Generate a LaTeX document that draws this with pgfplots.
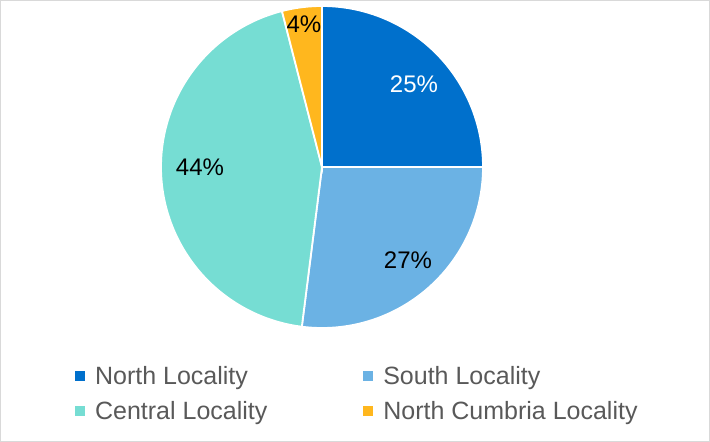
\documentclass[border=0pt]{standalone}
\usepackage{pgfplots}
\pgfplotsset{compat=1.18}
\usepackage{fontspec}
\setmainfont{Liberation Sans}
\definecolor{cNorth}{RGB}{0,112,204}
\definecolor{cSouth}{RGB}{107,178,228}
\definecolor{cCentral}{RGB}{118,221,211}
\definecolor{cCumbria}{RGB}{255,183,30}
\definecolor{legendgray}{RGB}{89,89,89}
\begin{document}
\begin{tikzpicture}
\begin{axis}[
  x=161pt, y=161pt, anchor=origin, at={(0pt,0pt)},
  xmin=-1, xmax=1, ymin=-1, ymax=1,
  hide axis, clip=false,
  legend columns=2,
  legend cell align=left,
  legend style={draw=none, fill=none, at={(axis cs:-1.534,-1.225)}, anchor=north west,
    font=\fontsize{25}{29}\selectfont, text=legendgray, inner sep=0pt, row sep=11pt,
    /tikz/every even column/.append style={column sep=94pt}},
  legend image code/.code={\fill[#1, draw=none] (0pt,-5pt) rectangle (10pt,5pt);\path (17pt,0pt);},
  every axis plot/.append style={draw=white, line width=1.8pt, samples=120},
]
% shares in percent: North 25, South 27, Central 44, North Cumbria 4 (clockwise from 12 o'clock)
\addplot[fill=cNorth, domain=90:90-25*3.6] ({cos(x)},{sin(x)}) -- (axis cs:0,0) -- cycle;
\addlegendentry{North Locality}
\addplot[fill=cSouth, domain=90-25*3.6:90-52*3.6] ({cos(x)},{sin(x)}) -- (axis cs:0,0) -- cycle;
\addlegendentry{South Locality}
\addplot[fill=cCentral, domain=90-52*3.6:90-96*3.6] ({cos(x)},{sin(x)}) -- (axis cs:0,0) -- cycle;
\addlegendentry{Central Locality}
\addplot[fill=cCumbria, domain=90-96*3.6:90-100*3.6] ({cos(x)},{sin(x)}) -- (axis cs:0,0) -- cycle;
\addlegendentry{North Cumbria Locality}
\node[text=white, font=\fontsize{24}{28}\selectfont] at (axis cs:0.571,0.516) {25\%};
\node[text=black, font=\fontsize{24}{28}\selectfont] at (axis cs:0.534,-0.578) {27\%};
\node[text=black, font=\fontsize{24}{28}\selectfont] at (axis cs:-0.758,0.0) {44\%};
\node[text=black, font=\fontsize{24}{28}\selectfont] at (axis cs:-0.112,0.888) {4\%};
\end{axis}
\draw[black!15, line width=1.5pt] (-321.25pt,-274.25pt) rectangle (387.25pt,166.25pt);
\end{tikzpicture}
\end{document}
